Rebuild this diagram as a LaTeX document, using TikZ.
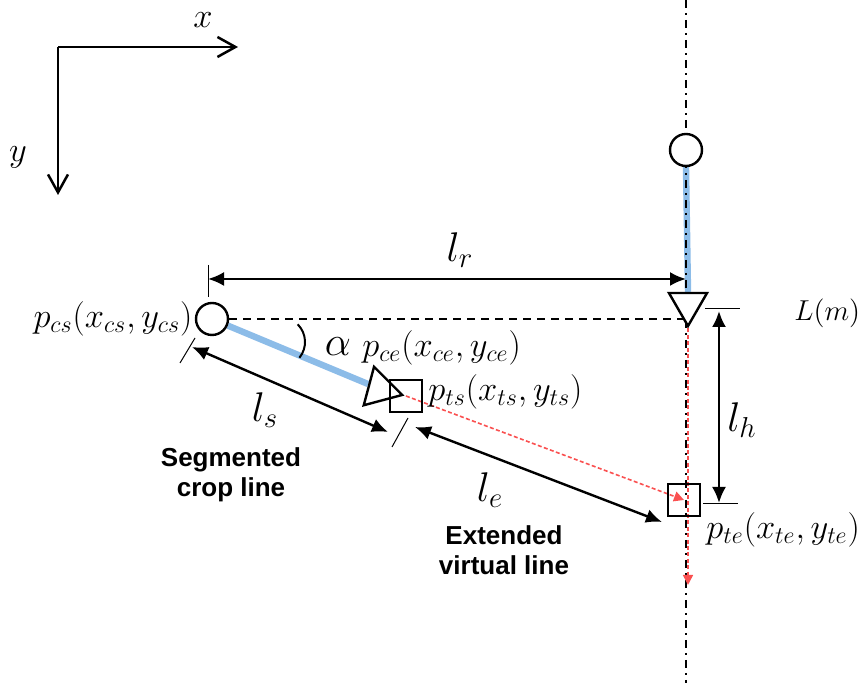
\documentclass[tikz,border=0pt]{standalone}
\usepackage{fontspec}
\newfontfamily\capfont{Liberation Sans}
\usetikzlibrary{positioning, calc, shapes.geometric, arrows.meta, backgrounds}
\definecolor{cropblue}{RGB}{140,188,232}
\definecolor{virtred}{RGB}{250,80,80}

\begin{document}
\begin{tikzpicture}[
        x=0.5pt, y=-0.5pt,
        cpoint/.style={circle, draw, fill=white, line width=1.2pt,
                       minimum size=16pt, inner sep=0pt},
        tpoint/.style={rectangle, draw, line width=1.2pt,
                       minimum size=16pt, inner sep=0pt},
        tri/.style={regular polygon, regular polygon sides=3, draw,
                    line width=1.2pt, inner sep=0pt},
        plabel/.style={font=\fontsize{17}{20}\selectfont, inner sep=1pt},
        llabel/.style={font=\fontsize{20}{24}\selectfont},
        capnote/.style={font=\capfont\bfseries\fontsize{13}{15}\selectfont, align=center},
        axisarr/.style={-{Straight Barb[length=9pt,width=10pt]}, line width=1.25pt},
        dimarr/.style={{Latex[length=8pt,width=7pt]}-{Latex[length=8pt,width=7pt]}, line width=1.2pt},
        dimtick/.style={line width=0.5pt},
        cropline/.style={line width=3.2pt, cropblue},
        virtline/.style={-{Triangle[length=5pt,width=5pt]}, line width=0.8pt, virtred,
                         dash pattern=on 2pt off 1.2pt},
        guide/.style={line width=1pt, dash pattern=on 4pt off 3pt},
        rowline/.style={line width=1.3pt, dash pattern=on 4pt off 2.5pt on 1pt off 2.5pt},
    ]
    \useasboundingbox (0,0) rectangle (859,683);

    % ---- Axes ----
    \coordinate (O) at (58,47);
    \coordinate (XE) at (238,47);
    \coordinate (YE) at (58,195);
    \draw[axisarr] (O) -- (XE);
    \draw[axisarr] (O) -- (YE);
    \node[plabel] (XL) at (203,20) {$x$};
    \node[plabel] (YL) at (18,157) {$y$};

    % ---- Points on the lines ----
    \node[cpoint] (CS) at (212,319) {};
    \node[cpoint] (CR) at (686,150) {};
    \node[tri, fill=white, minimum size=22pt, shape border rotate=180] (TR) at (688,304) {};
    \node[tri, minimum size=23pt, shape border rotate=-105] (TCE) at (380,389) {};
    \node[tpoint] (TS) at (406,396) {};
    \node[tpoint] (TE) at (684,500) {};

    % ---- Crop row line (vertical) ----
    \coordinate (VT) at (686,0);
    \coordinate (VB) at (686,683);
    \coordinate (VE) at (688,585);

    \begin{scope}[on background layer]
        \draw[cropline] (CR.south) -- (TR.north);
        \draw[cropline] (CS) -- (TCE);
        \draw[rowline] (VT) -- (VB);
        \draw[guide] (CS.east) -- (CS -| TR);
        \draw[virtline] (TS.center) -- (TE.center);
        \draw[virtline] (TR.south) -- (VE);
    \end{scope}

    % ---- Angle ----
    \coordinate (AC) at (280,342);
    \draw[line width=1pt] (AC) ++(45:12.5pt) arc[start angle=45, end angle=-39, radius=12.5pt];
    \node[llabel] (AL) at (338,347) {$\alpha$};

    % ---- Dimension l_r ----
    \coordinate (LRa) at (208,279);
    \coordinate (LRb) at (686,279);
    \draw[dimtick] (208,265) -- (208,297);
    \draw[dimarr] (LRa) -- (LRb);
    \node[llabel] (LRL) at (460,250) {$l_r$};

    % ---- Dimension l_h ----
    \coordinate (LHa) at (719,311);
    \coordinate (LHb) at (719,503);
    \draw[dimtick] (705,309) -- (740,309);
    \draw[dimtick] (703,504) -- (738,504);
    \draw[dimarr] (LHa) -- (LHb);
    \node[llabel] (LHL) at (742,420) {$l_h$};

    % ---- Dimension l_s ----
    \coordinate (LSa) at (192,347);
    \coordinate (LSb) at (388,432);
    \draw[dimtick] (180,363) -- (195,338);
    \draw[dimtick] (392,447) -- (408,418);
    \draw[dimarr] (LSa) -- (LSb);
    \node[llabel] (LSL) at (265,410) {$l_s$};

    % ---- Dimension l_e ----
    \coordinate (LEa) at (415,427);
    \coordinate (LEb) at (662,522);
    \draw[dimarr] (LEa) -- (LEb);
    \node[llabel] (LEL) at (490,490) {$l_e$};

    % ---- Point labels ----
    \node[plabel, anchor=east] (PCS) at (CS.west) {$p_{cs}(x_{cs},y_{cs})$};
    \node[plabel, anchor=west] (PCE) at (360,348) {$p_{ce}(x_{ce},y_{ce})$};
    \node[plabel, anchor=west] (PTS) at (426,392) {$p_{ts}(x_{ts},y_{ts})$};
    \node[plabel, anchor=west] (PTE) at (704,530) {$p_{te}(x_{te},y_{te})$};
    \node[plabel, anchor=west, font=\fontsize{13.5}{16}\selectfont] (LM) at (792,313) {$L(m)$};

    % ---- Line names ----
    \node[capnote] (SEG) at (231,475) {Segmented\\crop line};
    \node[capnote] (EXT) at (504,550) {Extended\\virtual line};

\end{tikzpicture}
\end{document}
